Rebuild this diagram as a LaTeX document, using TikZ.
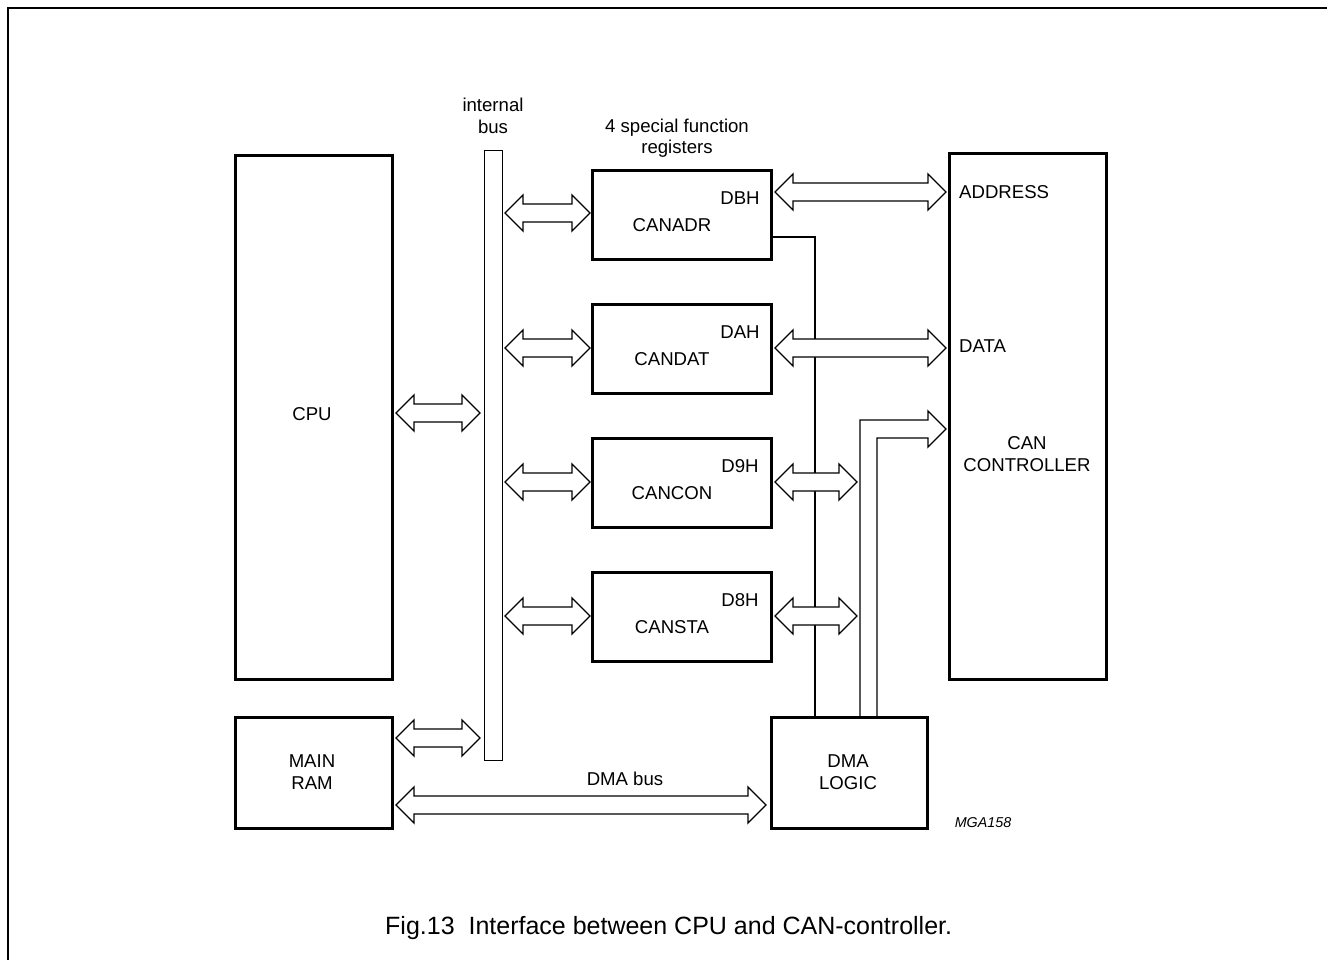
\documentclass[tikz,border=0pt]{standalone}
\usepackage{fontspec}
\setmainfont{Liberation Sans}
\begin{document}
\begin{tikzpicture}[x=1pt,y=-1pt,
  box/.style={draw,line width=2.6pt,rectangle,anchor=north west,inner sep=0pt},
  bar/.style={draw,line width=1.3pt,rectangle,anchor=north west,inner sep=0pt},
  blk/.style={draw,line width=1.3pt,fill=white,line join=miter},
  txt/.style={font=\fontsize{18.6}{21.5}\selectfont,align=center,inner sep=0pt},
  thin/.style={line width=1.3pt}]
\useasboundingbox (0,0) rectangle (1327,960);
\newcommand\dblarr[3]{% left tip, right tip, centre y
  \draw[blk] (#1,#3) -- (#1+18,#3-18) -- (#1+18,#3-9) -- (#2-18,#3-9) -- (#2-18,#3-18)
   -- (#2,#3) -- (#2-18,#3+18) -- (#2-18,#3+9) -- (#1+18,#3+9) -- (#1+18,#3+18) -- cycle;}
% frame
\draw[line width=1.8pt] (8,960) -- (8,8) -- (1327,8);
% boxes
\node[box,minimum width=157pt,minimum height=524pt] (cpu) at (234,154) {};
\node[box,minimum width=157pt,minimum height=111pt] (ram) at (234,716) {};
\node[bar,minimum width=18pt,minimum height=610pt] (bus) at (484,150) {};
\node[box,minimum width=179pt,minimum height=89pt] (adr) at (591,169) {};
\node[box,minimum width=179pt,minimum height=89pt] (dat) at (591,303) {};
\node[box,minimum width=179pt,minimum height=89pt] (con) at (591,437) {};
\node[box,minimum width=179pt,minimum height=89pt] (sta) at (591,571) {};
\node[box,minimum width=157pt,minimum height=526pt] (can) at (948,152) {};
\node[box,minimum width=156pt,minimum height=111pt] (dma) at (770,716) {};
% labels
\node[txt] (lbus) at (493,116) {internal\\bus};
\node[txt] (lsfr) at (677,138) {4 special function\\registers};
\node[txt] (tcpu) at (312,414) {CPU};
\node[txt] (tram) at (312,772) {MAIN\\RAM};
\node[txt] (tadr) at (672,225) {CANADR};
\node[txt] (hadr) at (740,198) {DBH};
\node[txt] (tdat) at (672,359) {CANDAT};
\node[txt] (hdat) at (740,332) {DAH};
\node[txt] (tcon) at (672,493) {CANCON};
\node[txt] (hcon) at (740,466) {D9H};
\node[txt] (tsta) at (672,627) {CANSTA};
\node[txt] (hsta) at (740,600) {D8H};
\node[txt,anchor=west] (taddr) at (959,192) {ADDRESS};
\node[txt,anchor=west] (tdata) at (959,346) {DATA};
\node[txt] (tcan) at (1027,454) {CAN\\CONTROLLER};
\node[txt] (tdma) at (848,772) {DMA\\LOGIC};
\node[txt] (tdbus) at (625,779) {DMA bus};
\node[font=\fontsize{14.3}{16}\selectfont\itshape,inner sep=0pt] (mga) at (983,823) {MGA158};
\node[font=\fontsize{25}{28}\selectfont,inner sep=0pt,anchor=base west] (cap) at (385,934) {Fig.13\ \ Interface between CPU and CAN-controller.};
% control line from CANADR to DMA logic
\draw[thin] (adr.east |- 0,237) -- (815,237) -- (815,716);
% L-shaped arrow from DMA logic to CAN controller
\draw[blk,fill=none] (860,716) -- (860,420) -- (928,420) -- (928,411) -- (946,429)
  -- (928,447) -- (928,438) -- (877,438) -- (877,716);
% double arrows
\dblarr{396}{480}{413}
\dblarr{396}{480}{738}
\dblarr{396}{766}{805}
\dblarr{505}{590}{213}
\dblarr{505}{590}{348}
\dblarr{505}{590}{482}
\dblarr{505}{590}{616}
\dblarr{775}{946}{192}
\dblarr{775}{946}{348}
\dblarr{775}{857}{482}
\dblarr{775}{857}{616}
\end{tikzpicture}
\end{document}
